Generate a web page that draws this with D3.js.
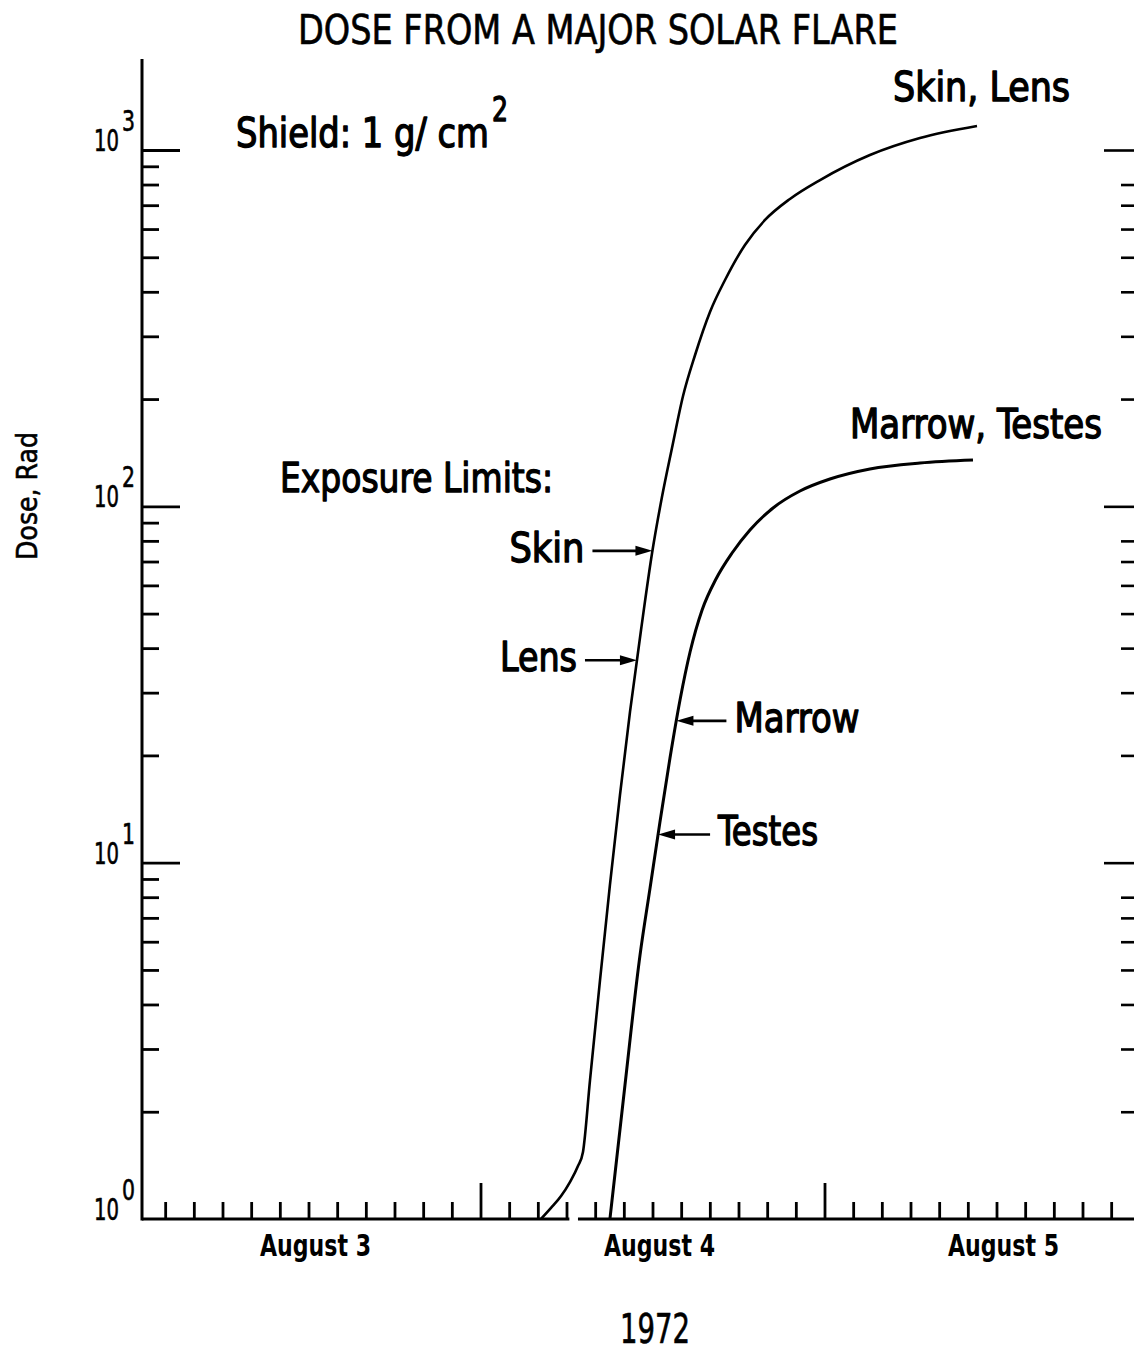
<!DOCTYPE html>
<html>
<head>
<meta charset="utf-8">
<script src="https://cdn.jsdelivr.net/npm/d3@7"></script>
<style>
  html, body { margin: 0; padding: 0; background: #fff; }
  svg text { font-family: "DejaVu Sans Condensed", "DejaVu Sans", "Liberation Sans", sans-serif; font-stretch: condensed; font-weight: normal; fill: #000; stroke: #000; stroke-width: 1.3px; stroke-linejoin: round; }
  svg text.light { stroke-width: 0.6px; }
  svg text.heavy { font-weight: bold; stroke-width: 0; }
</style>
</head>
<body>
<svg id="chart" width="1134" height="1352"></svg>
<script>
// Dose accumulated behind a 1 g/cm² shield during the August 1972 solar flare.
// Time is hours after 00:00 UT, 3 August 1972; dose is in rad.
const skinLensHours = [28.22, 28.92, 29.62, 30.24, 30.80, 31.15, 31.64, 32.34, 33.03, 33.73, 34.43, 35.20, 35.97, 36.66, 37.36, 38.13, 38.97, 40.01, 41.06, 42.45, 43.85, 45.59, 47.69, 51.17, 54.66, 58.64];
const skinLensDose  = [1.0, 1.074, 1.160, 1.270, 1.408, 1.542, 2.455, 4.686, 8.66, 15.48, 26.48, 44.98, 73.97, 106.2, 145.8, 204.0, 265.9, 351.2, 431.7, 541.2, 636.3, 728.9, 823.7, 968.3, 1080.8, 1168];

const marrowTestesHours = [33.03, 34.08, 35.13, 35.83, 36.52, 37.22, 37.92, 38.62, 39.46, 40.43, 41.55, 42.80, 44.41, 46.29, 48.38, 51.17, 54.66, 58.36];
const marrowTestesDose  = [1.0, 2.377, 5.507, 8.49, 13.01, 19.67, 28.61, 39.01, 51.19, 62.54, 73.97, 85.84, 98.94, 110.4, 119.3, 127.3, 132.3, 134.9];

// Exposure limits marked by arrows on the curves
const limitNames = ["Skin", "Lens", "Marrow", "Testes"];
const limitDose  = [75, 37, 25, 12];
const limitCurve = ["skinLens", "skinLens", "marrowTestes", "marrowTestes"];

// Axis labelling
const dayLabels   = ["August 3", "August 4", "August 5"];
const decadeExps  = [0, 1, 2, 3];
const yearLabel   = "1972";
const titleText   = "DOSE FROM A MAJOR SOLAR FLARE";
const yAxisTitle  = "Dose, Rad";
const shieldText  = "Shield: 1 g/ cm";
const limitsTitle = "Exposure Limits:";
const curveNames  = ["Skin, Lens", "Marrow, Testes"];

const svg = d3.select("#chart");
svg.append("rect").attr("width", 1134).attr("height", 1352).attr("fill", "#fff");

const t0 = Date.UTC(1972, 7, 3);
const atHour = h => new Date(t0 + h * 3600e3);

const x = d3.scaleUtc()
  .domain([atHour(0), atHour(72)])
  .range([136.5, 1168.5]);
const y = d3.scaleLog()
  .domain([1, 1000])
  .range([1219, 150]);

const xLeft = 142, xRight = 1134, yBase = 1219, yTopDose = 1800;
const ink = "#000";

// ---- left axis ----
const majorVals = decadeExps.map(e => Math.pow(10, e));
const minorVals = [];
decadeExps.slice(0, 3).forEach(e => { for (let m = 2; m <= 9; m++) minorVals.push(m * Math.pow(10, e)); });

function styleAxis(g, w) {
  g.select(".domain").remove();
  g.selectAll(".tick line").attr("stroke", ink).attr("stroke-width", w);
  g.selectAll(".tick text").remove();
}

svg.append("line")
  .attr("x1", xLeft).attr("x2", xLeft)
  .attr("y1", y(yTopDose)).attr("y2", yBase + 1.5)
  .attr("stroke", ink).attr("stroke-width", 3);

svg.append("g").attr("transform", `translate(${xLeft},0)`)
  .call(d3.axisRight(y).tickValues(majorVals.slice(1)).tickSize(38))
  .call(g => styleAxis(g, 2.8));
svg.append("g").attr("transform", `translate(${xLeft},0)`)
  .call(d3.axisRight(y).tickValues(minorVals).tickSize(17))
  .call(g => styleAxis(g, 2.8));

// ---- right-hand tick marks ----
const rightMinor = [];
decadeExps.slice(0, 3).forEach(e => { for (let m = 2; m <= 8; m++) rightMinor.push(m * Math.pow(10, e)); });
svg.append("g").attr("transform", `translate(${xRight},0)`)
  .call(d3.axisLeft(y).tickValues(majorVals.slice(1)).tickSize(30))
  .call(g => styleAxis(g, 2.6));
svg.append("g").attr("transform", `translate(${xRight},0)`)
  .call(d3.axisLeft(y).tickValues(rightMinor).tickSize(13))
  .call(g => styleAxis(g, 2.6));

// decade labels 10^n
decadeExps.forEach(e => {
  const yy = y(Math.pow(10, e));
  svg.append("text").attr("class", "light").attr("x", 119).attr("y", yy + 1)
    .attr("text-anchor", "end").attr("font-size", 30)
    .attr("textLength", 25).attr("lengthAdjust", "spacingAndGlyphs")
    .text("10");
  svg.append("text").attr("class", "light").attr("x", 122).attr("y", yy - 19)
    .attr("font-size", 29)
    .attr("textLength", 13).attr("lengthAdjust", "spacingAndGlyphs")
    .text(String(e));
});

svg.append("text").attr("class", "light")
  .attr("transform", "translate(37,496) rotate(-90)")
  .attr("text-anchor", "middle").attr("font-size", 29)
  .attr("textLength", 128).attr("lengthAdjust", "spacingAndGlyphs")
  .text(yAxisTitle);

// ---- bottom axis ----
const axisBreaks = [[xLeft, x(atHour(30.2))], [x(atHour(30.8)), xRight]];
axisBreaks.forEach(([a, b]) => {
  svg.append("line").attr("x1", a).attr("x2", b)
    .attr("y1", yBase).attr("y2", yBase)
    .attr("stroke", ink).attr("stroke-width", 3);
});

const twoHourTicks = d3.utcHour.every(2).range(atHour(1), atHour(70.5)).filter(d => d.getUTCHours() !== 0);
const dayTicks = [atHour(24), atHour(48)];
svg.append("g").attr("transform", `translate(0,${yBase})`)
  .call(d3.axisTop(x).tickValues(twoHourTicks).tickSize(17))
  .call(g => styleAxis(g, 2.8));
svg.append("g").attr("transform", `translate(0,${yBase})`)
  .call(d3.axisTop(x).tickValues(dayTicks).tickSize(36))
  .call(g => styleAxis(g, 2.8));

dayLabels.forEach((lab, i) => {
  svg.append("text").attr("class", "heavy")
    .attr("x", x(atHour(12 + 24 * i)) + 7).attr("y", 1256)
    .attr("text-anchor", "middle").attr("font-size", 30)
    .attr("textLength", 111).attr("lengthAdjust", "spacingAndGlyphs")
    .text(lab);
});

svg.append("text").attr("class", "light").attr("x", 655).attr("y", 1343)
  .attr("text-anchor", "middle").attr("font-size", 40)
  .attr("textLength", 70).attr("lengthAdjust", "spacingAndGlyphs")
  .text(yearLabel);

// ---- curves ----
const series = {
  skinLens: skinLensHours.map((h, i) => ({ t: atHour(h), v: skinLensDose[i] })),
  marrowTestes: marrowTestesHours.map((h, i) => ({ t: atHour(h), v: marrowTestesDose[i] }))
};
const line = d3.line().x(d => x(d.t)).y(d => y(d.v)).curve(d3.curveMonotoneX);

svg.append("path").datum(series.skinLens)
  .attr("d", line).attr("fill", "none").attr("stroke", ink).attr("stroke-width", 2.6);
svg.append("path").datum(series.marrowTestes)
  .attr("d", line).attr("fill", "none").attr("stroke", ink).attr("stroke-width", 3);

// time at which a curve reaches a dose (log interpolation between points)
function timeAtDose(pts, dose) {
  const ld = Math.log10(dose);
  for (let i = 1; i < pts.length; i++) {
    const a = Math.log10(pts[i - 1].v), b = Math.log10(pts[i].v);
    if (ld >= a && ld <= b) {
      const f = (ld - a) / (b - a);
      return new Date(+pts[i - 1].t + f * (pts[i].t - pts[i - 1].t));
    }
  }
  return pts[pts.length - 1].t;
}

// ---- exposure limit arrows ----
const arrowLen = [60, 52, 50, 52];
const labelWidth = [75, 77, 125, 100];
limitNames.forEach((name, i) => {
  const pts = series[limitCurve[i]];
  const tipX = x(timeAtDose(pts, limitDose[i]));
  const yy = y(limitDose[i]);
  const dir = i < 2 ? 1 : -1;          // left labels point right, right labels point left
  const tailX = tipX - dir * arrowLen[i];
  svg.append("line").attr("x1", tailX).attr("x2", tipX - dir * 12)
    .attr("y1", yy).attr("y2", yy).attr("stroke", ink).attr("stroke-width", 2.6);
  svg.append("path")
    .attr("d", `M${tipX},${yy} L${tipX - dir * 17},${yy - 5} L${tipX - dir * 17},${yy + 5} Z`)
    .attr("fill", ink);
  svg.append("text")
    .attr("x", tailX - dir * 8).attr("y", yy + 11)
    .attr("text-anchor", dir > 0 ? "end" : "start")
    .attr("font-size", 41)
    .attr("textLength", labelWidth[i]).attr("lengthAdjust", "spacingAndGlyphs")
    .text(name);
});

// ---- titles and annotations ----
svg.append("text").attr("class", "light").attr("x", 598).attr("y", 44)
  .attr("text-anchor", "middle").attr("font-size", 40)
  .attr("textLength", 600).attr("lengthAdjust", "spacingAndGlyphs")
  .text(titleText);

svg.append("text").attr("x", 236).attr("y", 147)
  .attr("font-size", 41)
  .attr("textLength", 253).attr("lengthAdjust", "spacingAndGlyphs")
  .text(shieldText);
svg.append("text").attr("x", 492).attr("y", 121)
  .attr("font-size", 34)
  .attr("textLength", 16).attr("lengthAdjust", "spacingAndGlyphs")
  .text("2");

svg.append("text").attr("x", 280).attr("y", 492)
  .attr("font-size", 41)
  .attr("textLength", 273).attr("lengthAdjust", "spacingAndGlyphs")
  .text(limitsTitle);

svg.append("text").attr("x", 893).attr("y", 101)
  .attr("font-size", 40)
  .attr("textLength", 177).attr("lengthAdjust", "spacingAndGlyphs")
  .text(curveNames[0]);
svg.append("text").attr("x", 850).attr("y", 438)
  .attr("font-size", 40)
  .attr("textLength", 252).attr("lengthAdjust", "spacingAndGlyphs")
  .text(curveNames[1]);
</script>
</body>
</html>
